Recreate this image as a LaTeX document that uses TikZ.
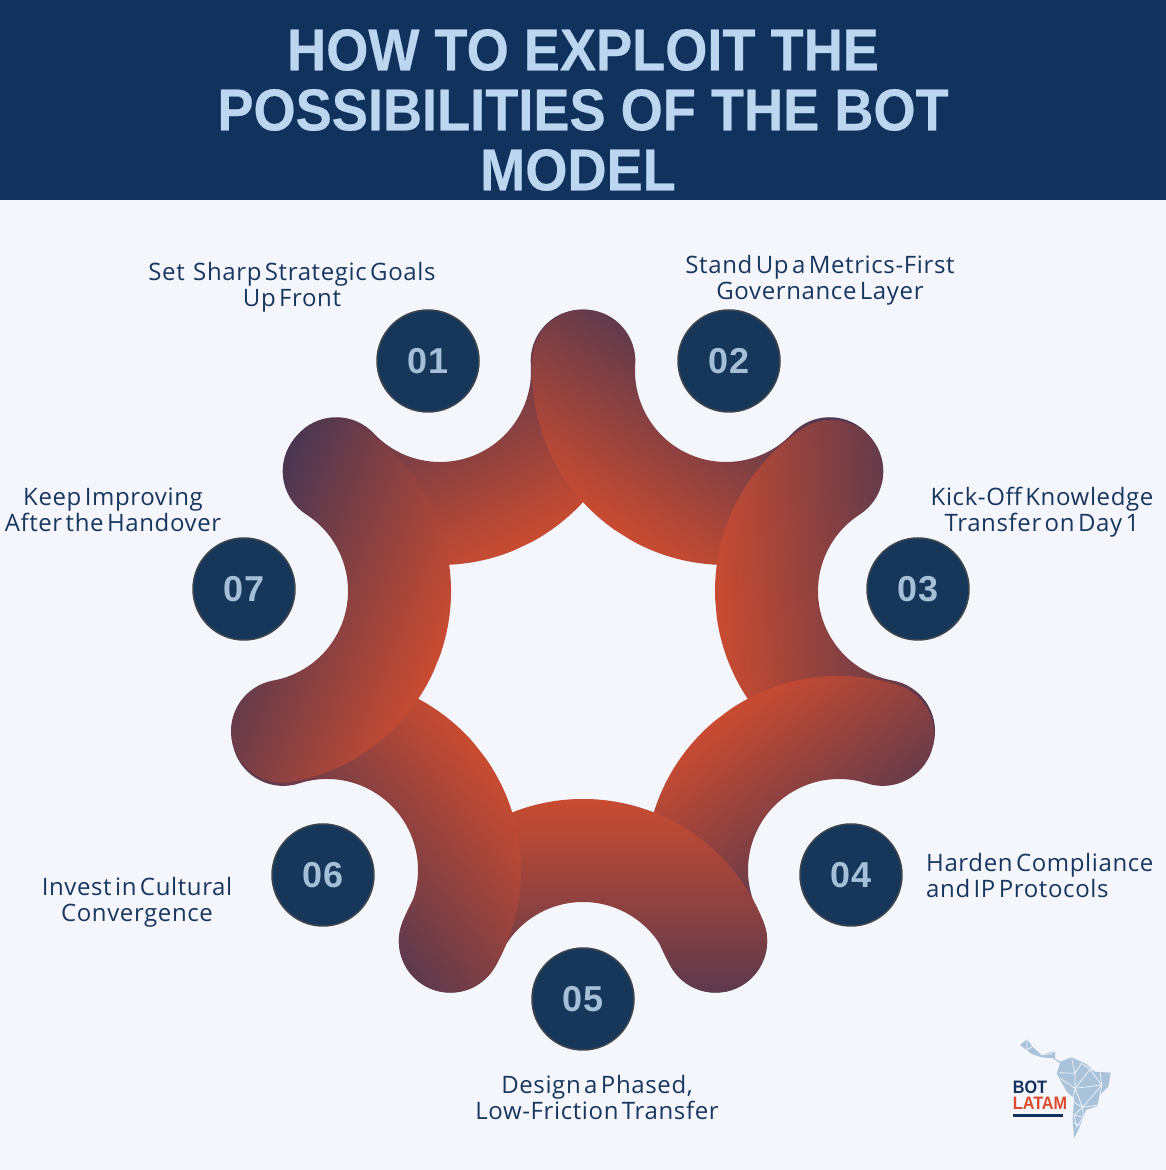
\documentclass[tikz,border=0pt]{standalone}
\usepackage{fontspec}
\setmainfont[WordSpace=0.5,LetterSpace=2.6]{Open Sans}
\newfontfamily\titlefont[FakeStretch=0.918,FakeBold=0.4]{Liberation Sans}
\newfontfamily\logofont[FakeStretch=0.9]{Liberation Sans}
\newfontfamily\digitfont[LetterSpace=4]{Liberation Sans}
\definecolor{pagebg}{HTML}{F4F6FC}
\definecolor{bandblue}{HTML}{12325E}
\definecolor{titleblue}{HTML}{BDD6F0}
\definecolor{badgeblue}{HTML}{16375A}
\definecolor{badgeline}{HTML}{3F464E}
\definecolor{digitblue}{HTML}{A5BFD6}
\definecolor{labelblue}{HTML}{17375F}
\definecolor{ribbonorange}{HTML}{C94B31}
\definecolor{ribbondark}{HTML}{3F3555}
\definecolor{mapblue}{HTML}{A9C3DA}
\definecolor{logored}{HTML}{DE4A2C}
\tikzset{
  ribbonfill/.style={inner sep=0,minimum width=700pt,anchor=north,top color=ribbonorange,bottom color=ribbondark},
  badge/.style={circle,draw=badgeline,line width=1.5pt,fill=badgeblue,minimum size=102pt,inner sep=0,
    text=digitblue,font=\fontsize{36}{36}\selectfont\digitfont\bfseries},
  steplabel/.style={align=center,inner sep=0,text=labelblue,font=\fontsize{24}{26}\selectfont},
  logoline/.style={draw=pagebg,line width=0.7pt},
  logotext/.style={anchor=base west,inner sep=0,font=\fontsize{18}{19}\selectfont\logofont\bfseries},
}
\begin{document}
\begin{tikzpicture}[x=1pt,y=1pt]
\useasboundingbox (0,0) rectangle (1166,1170);
\fill[pagebg] (0,0) rectangle (1166,1170);
\fill[bandblue] (0,970) rectangle (1166,1170);
\node[align=center,inner sep=0,text=titleblue,font=\fontsize{59}{60}\selectfont\titlefont\bfseries] (title) at (583,1060)
  {HOW TO EXPLOIT THE\\POSSIBILITIES OF THE BOT\\MODEL\kern10pt};
% ribbons: centre, start and end angle, dark direction, gradient length
\foreach \n/\cx/\cy/\sa/\ea/\ang/\len in {
    1/440/799/223.3/364/115/240,
    2/726/799/176/316.7/58/235,
    3/909/579/122.8/259.7/5/245,
    4/839/300/72.1/210/-53/235,
    5/583/177/21.4/158.6/-90/245,
    6/327/300/-30/107.9/218/245,
    7/257/579/-79.7/57.2/158/235}
{
  \begin{scope}
    \clip (\cx,\cy) ++(\sa:194) arc[start angle=\sa,end angle=\ea,radius=194]
      arc[start angle=\ea,delta angle=180,radius=51.5]
      arc[start angle=\ea,end angle=\sa,radius=91]
      arc[start angle=\sa+180,delta angle=180,radius=51.5] -- cycle;
    \path (\cx,\cy) ++(\ang+180:194) coordinate (o\n);
    \begin{scope}[transform canvas={rotate around={\ang+90:(o\n)}}]
      \node[ribbonfill,minimum height=\len pt] (ribbon\n) at (o\n) {};
    \end{scope}
  \end{scope}
}
\foreach \n/\x/\y in {1/428/809,2/729/809,3/918/581,4/851/295,5/583/171,6/323/295,7/244/581}
  \node[badge] (badge\n) at (\x,\y) {0\n};
\foreach \n/\x/\y/\t in {
    1/292/883/{Set\hspace{5pt} Sharp Strategic Goals\\Up Front},
    2/820/890/{Stand Up a Metrics-First\\Governance Layer},
    3/1042/658/{Kick-Off Knowledge\\Transfer on Day 1},
    5/597/72/{Design a Phased,\\Low-Friction Transfer},
    6/137/268/{Invest in Cultural\\Convergence},
    7/113/660/{Keep Improving\\After the Handover}}
  \node[steplabel] (label\n) at (\x,\y) {\t};
\node[steplabel,align=left,anchor=west] (label4) at (926,294) {Harden Compliance\\and IP Protocols};
% logo
\begin{scope}[shift={(1000pt,140pt)},x=0.3333pt,y=-0.3333pt]
  \fill[mapblue] (60,45) -- (82,28) -- (97,50) -- (125,75) -- (165,62) -- (165,85) -- (180,95)
    -- (215,82) -- (255,100) -- (285,125) -- (332,128) -- (325,170) -- (300,195) -- (292,228)
    -- (258,240) -- (245,275) -- (235,300) -- (222,325) -- (218,270) -- (222,205) -- (200,185)
    -- (170,130) -- (180,100) -- (160,85) -- (125,82) -- (95,72) -- cycle;
  \draw[logoline] (178,128) -- (225,130) -- (225,175) -- (180,145);
  \draw[logoline] (215,85) -- (225,130) -- (245,100) -- (270,118) -- (225,175);
  \draw[logoline] (270,118) -- (300,125) -- (305,165) -- (225,175);
  \draw[logoline] (270,118) -- (305,165) -- (295,225) -- (248,232) -- (225,175);
  \draw[logoline] (248,232) -- (305,165);
  \draw[logoline] (225,175) -- (218,215) -- (248,232) -- (222,255) -- (250,262) -- (248,232);
  \draw[logoline] (222,255) -- (230,290) -- (250,262);
  \draw[logoline] (222,280) -- (240,285);
  \draw[logoline] (82,28) -- (80,60) -- (97,50);
  \draw[logoline] (125,75) -- (150,72) -- (165,62);
  \node[logotext,text=bandblue] (logobot) at (38,192) {BOT};
  \node[logotext,text=logored] (logolatam) at (38,238) {LATAM};
  \fill[bandblue] (40,251) rectangle (190,260);
\end{scope}
\end{tikzpicture}
\end{document}
